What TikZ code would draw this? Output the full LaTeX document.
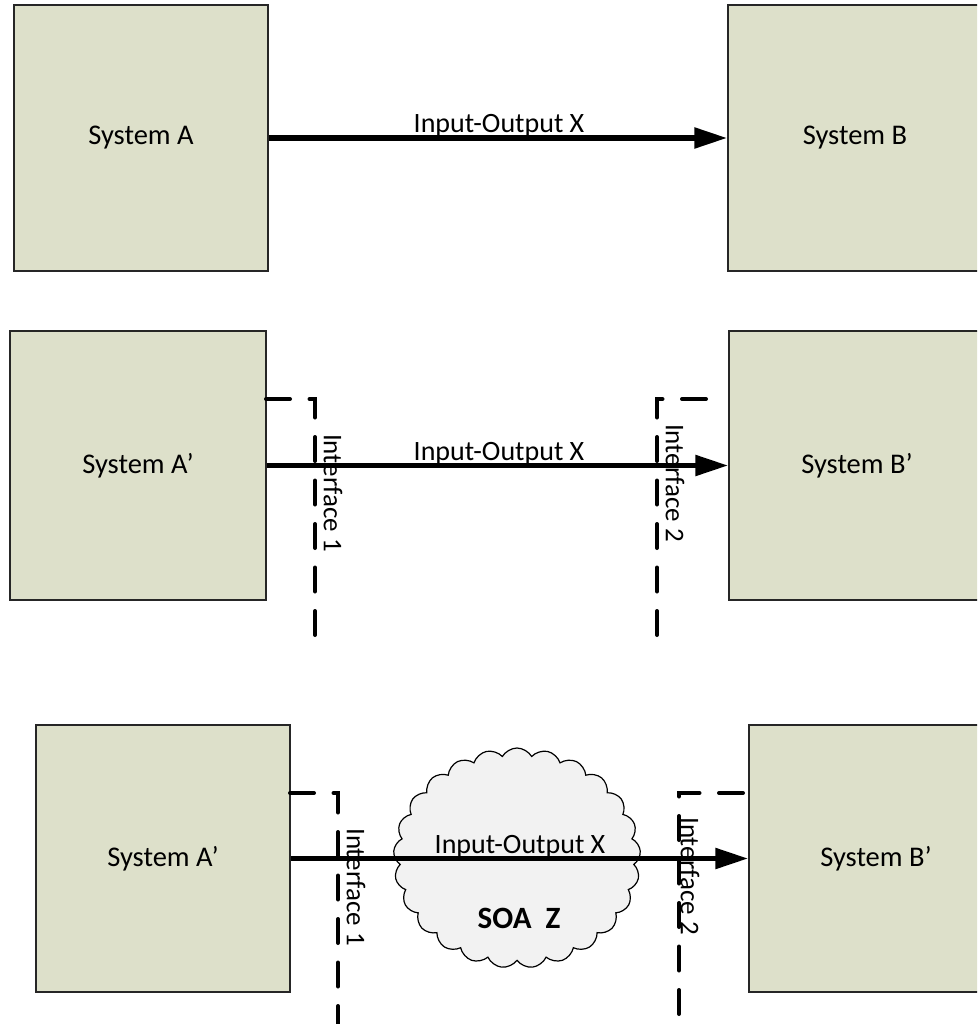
\documentclass[tikz,border=0pt]{standalone}
\usepackage{fontspec}
\setmainfont{Carlito}
\usetikzlibrary{arrows.meta,shapes.symbols}
\definecolor{boxfill}{RGB}{221,224,202}
\definecolor{boxline}{RGB}{38,38,38}
\definecolor{cloudfill}{RGB}{242,242,242}
\begin{document}
\begin{tikzpicture}[x=1pt,y=-1pt,
  sysbox/.style={draw=boxline, line width=1.5pt, fill=boxfill, minimum width=254pt, minimum height=267pt, inner sep=0pt, font=\fontsize{28.5}{34}\selectfont},
  flow/.style={line width=5.5pt, -{Triangle[length=33pt,width=20pt]}},
  iface/.style={line width=4pt, dash pattern=on 24pt off 19.5pt, line cap=round},
  ifacelabel/.style={rotate=-90, font=\fontsize{27}{32}\selectfont, inner sep=0pt},
  flowlabel/.style={font=\fontsize{28}{33}\selectfont, anchor=base, inner sep=0pt},
  soacloud/.style={cloud, draw=black, line width=1.2pt, fill=cloudfill, cloud puffs=25, cloud puff arc=120, aspect=1.12, minimum width=247pt, minimum height=220pt, inner sep=0pt}
]
\useasboundingbox (0,0) rectangle (977,1024);
\clip (0,0) rectangle (977,1024);

% ---------- section 1 ----------
\node[sysbox, minimum height=266pt] (A1) at (141,138) {System A};
\node[sysbox, minimum height=266pt] (B1) at (855,138) {System B};
\draw[flow] (A1.east) -- (B1.west);
\node[flowlabel] (L1) at (499,133) {Input-Output X};

% ---------- section 2 ----------
\node[sysbox, minimum width=256pt, minimum height=269pt] (A2) at (138,465.5) {System A’};
\node[sysbox, minimum width=256pt, minimum height=269pt] (B2) at (857,465.5) {System B’};
\coordinate (i1s2) at (266,399);
\coordinate (i1c2) at (315,399);
\coordinate (i1e2) at (315,635);
\coordinate (i2s2) at (706,399);
\coordinate (i2c2) at (657,399);
\coordinate (i2e2) at (657,635);
\draw[iface] (i1s2) -- (i1c2) -- (i1e2);
\draw[iface] (i2s2) -- (i2c2) -- (i2e2);
\draw[flow] (A2.east) -- (B2.west);
\node[flowlabel] (L2) at (499,460) {Input-Output X};
\node[ifacelabel] (I1s2) at (333,493) {Interface 1};
\node[ifacelabel] (I2s2) at (675,483) {Interface 2};

% ---------- section 3 ----------
\node[sysbox] (A3) at (163,858.5) {System A’};
\node[sysbox] (B3) at (876,858.5) {System B’};
\node[soacloud] (Z) at (517,858) {};
\coordinate (i1s3) at (290,793);
\coordinate (i1c3) at (338,793);
\coordinate (i1e3) at (338,1030);
\coordinate (i2s3) at (743,793);
\coordinate (i2c3) at (679,793);
\coordinate (i2e3) at (679,1030);
\draw[iface] (i1s3) -- (i1c3) -- (i1e3);
\draw[iface] (i2s3) -- (i2c3) -- (i2e3);
\draw[flow] (A3.east) -- (B3.west);
\node[flowlabel] (L3) at (520,853) {Input-Output X};
\node[font=\bfseries\fontsize{31}{36}\selectfont, inner sep=0pt] (soa) at (519,918) {SOA\ \ Z};
\node[ifacelabel] (I1s3) at (356,887) {Interface 1};
\node[ifacelabel] (I2s3) at (690,876) {Interface 2};
\end{tikzpicture}
\end{document}
